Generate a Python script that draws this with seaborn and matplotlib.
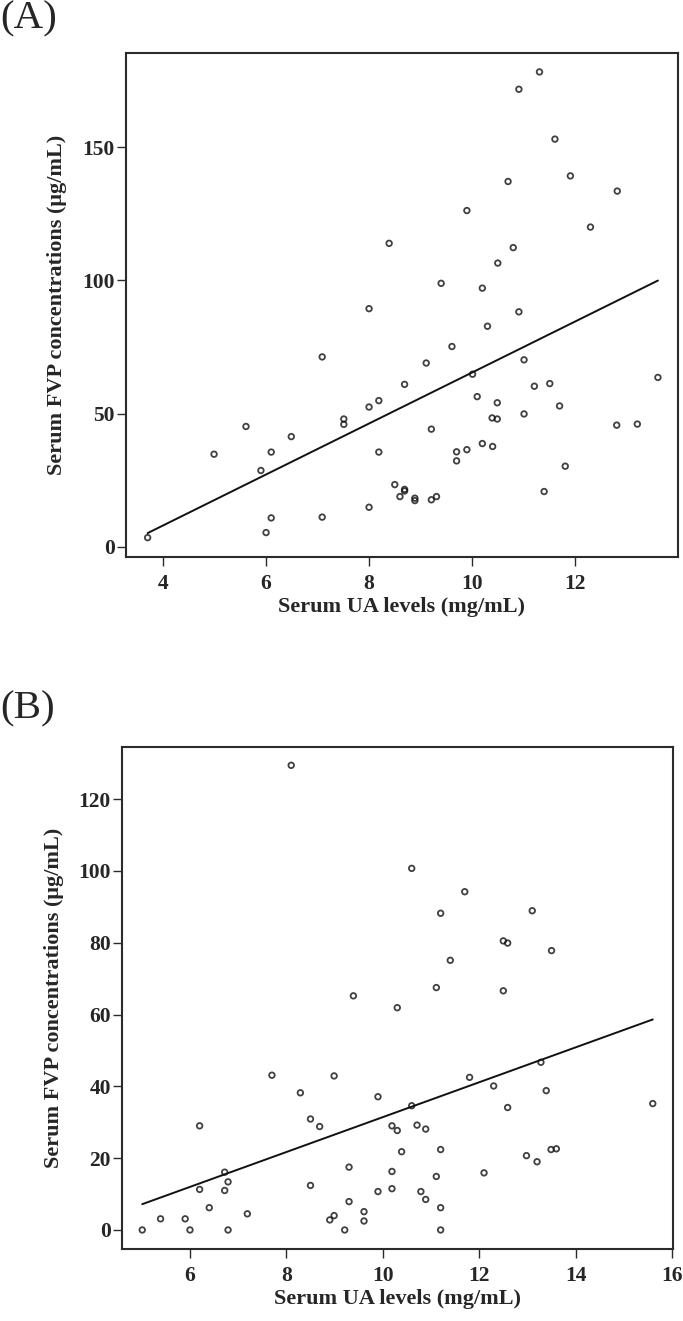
import numpy as np
import pandas as pd
import matplotlib
matplotlib.use("Agg")
import matplotlib.pyplot as plt
import seaborn as sns

# ---------------- Panel A data ----------------
ua_a = [8.39, 11.31, 10.91, 11.61, 11.91, 10.70, 12.82, 9.90, 12.30, 10.80,
        10.50, 9.40, 10.20,
        10.91, 10.30, 9.61, 9.11, 11.01, 10.01, 13.61, 8.69, 11.21, 11.51,
        10.10, 10.49, 11.70, 11.01, 10.39, 10.49, 9.21, 12.81, 13.21, 10.20,
        10.40, 9.70, 9.90, 9.70, 11.81, 11.40, 8.50, 8.69, 8.69, 8.60, 8.89,
        8.89, 9.21, 9.31,
        8.00, 7.09, 8.19, 8.00, 7.51, 7.51, 5.61, 6.49, 4.99, 6.10, 8.19,
        5.90, 8.00, 7.09, 6.10, 6.00, 3.70]
fvp_a = [113.9, 178.2, 171.7, 153.0, 139.2, 137.1, 133.5, 126.2, 120.0, 112.3,
         106.5, 98.9, 97.1,
         88.2, 82.8, 75.2, 69.0, 70.2, 64.8, 63.6, 61.0, 60.3, 61.3,
         56.4, 54.1, 52.9, 49.9, 48.4, 48.0, 44.2, 45.7, 46.1, 38.8,
         37.7, 35.7, 36.5, 32.3, 30.3, 20.8, 23.4, 21.0, 21.6, 18.9, 18.3,
         17.4, 17.7, 18.9,
         89.4, 71.3, 54.9, 52.5, 48.0, 46.0, 45.2, 41.4, 34.8, 35.6, 35.6,
         28.7, 14.9, 11.2, 10.9, 5.4, 3.5]

# ---------------- Panel B data ----------------
ua_b = [8.10,
        10.60, 11.70, 11.20, 13.10, 12.50, 12.59, 13.50, 11.40,
        9.39, 10.30, 7.70, 8.99, 8.29, 9.90, 8.50, 8.69, 6.20, 10.19, 10.30,
        10.39, 6.72, 9.30, 10.19, 6.79, 8.50, 6.20, 6.72, 10.19, 9.90, 6.40,
        9.30, 7.19, 5.39, 5.90, 8.99, 8.90, 9.61, 9.61, 5.01, 6.00, 6.79, 9.21,
        11.11, 12.50, 11.80, 13.28, 12.30, 13.39, 10.60, 12.59, 15.60, 10.71,
        10.89, 11.20, 12.98, 13.20, 13.49, 13.60, 12.10, 11.11, 10.79, 10.89,
        11.20, 11.20]
fvp_b = [129.4,
         100.7, 94.2, 88.2, 88.9, 80.5, 79.9, 77.8, 75.1,
         65.2, 61.9, 43.1, 42.9, 38.2, 37.1, 30.9, 28.8, 29.0, 29.0, 27.7,
         21.8, 16.1, 17.5, 16.3, 13.4, 12.4, 11.3, 11.0, 11.5, 10.7, 6.2,
         7.9, 4.5, 3.1, 3.1, 4.0, 2.8, 5.1, 2.5, 0.0, 0.0, 0.0, 0.0,
         67.5, 66.6, 42.5, 46.7, 40.1, 38.8, 34.6, 34.1, 35.2, 29.2,
         28.1, 22.4, 20.7, 19.0, 22.4, 22.6, 15.9, 14.9, 10.7, 8.5,
         6.2, 0.0]

xticks_a = [4, 6, 8, 10, 12]
yticks_a = [0, 50, 100, 150]
xticks_b = [6, 8, 10, 12, 14, 16]
yticks_b = [0, 20, 40, 60, 80, 100, 120]

xlabel = "Serum UA levels (mg/mL)"
ylabel = "Serum FVP concentrations (\u03bcg/mL)"

sns.set_theme(style="ticks")
plt.rcParams['font.family'] = ['Liberation Serif', 'DejaVu Serif']
plt.rcParams['font.weight'] = 'bold'

W, H = 683, 1321
fig = plt.figure(figsize=(W / 100, H / 100), dpi=100)


def px_axes(l, t, r, b):
    return fig.add_axes([l / W, 1 - b / H, (r - l) / W, (b - t) / H])


ax_a = px_axes(126, 53, 678, 557)
ax_b = px_axes(122, 747, 673, 1249)

df_a = pd.DataFrame({"ua": ua_a, "fvp": fvp_a})
df_b = pd.DataFrame({"ua": ua_b, "fvp": fvp_b})

spine_col = "#2b2b2b"
for ax, df, xl, yl, xt, yt, ylc in [
        (ax_a, df_a, (3.28, 14.0), (-3.76, 185.3), xticks_a, yticks_a, -0.107),
        (ax_b, df_b, (4.59, 16.02), (-5.3, 134.5), xticks_b, yticks_b, -0.105)]:
    sns.regplot(data=df, x="ua", y="fvp", ax=ax, ci=None, color="black",
                scatter_kws=dict(s=16, facecolors="none", edgecolors="#111111",
                                 linewidths=1.3),
                line_kws=dict(lw=1.4, color="#111111"))
    ax.set_xlim(*xl)
    ax.set_ylim(*yl)
    ax.set_xticks(xt)
    ax.set_yticks(yt)
    for s in ax.spines.values():
        s.set_visible(True)
        s.set_color(spine_col)
        s.set_linewidth(1.5)
    ax.tick_params(axis="both", direction="out", length=6.5, width=1.0,
                   color=spine_col, labelsize=15.5, top=False, right=False)
    ax.tick_params(axis="x", pad=5.5)
    ax.tick_params(axis="y", pad=1.5)
    for lab in ax.get_xticklabels() + ax.get_yticklabels():
        lab.set_fontweight("bold")
    ax.set_xlabel(xlabel, fontsize=16, fontweight="bold")
    ax.set_ylabel(ylabel, fontsize=16, fontweight="bold")
    ax.yaxis.set_label_coords(ylc, 0.5)
    ax.grid(False)

ax_a.xaxis.set_label_coords(0.5, -0.079)
ax_b.xaxis.set_label_coords(0.5, -0.079)

fig.text(0.0, 1 - 0 / H, "(A)", ha="left", va="top", fontsize=29.5,
         fontweight="normal")
fig.text(0.0, 1 - 690 / H, "(B)", ha="left", va="top", fontsize=29.5,
         fontweight="normal")

fig.savefig("out.png", dpi=100, facecolor="white")
